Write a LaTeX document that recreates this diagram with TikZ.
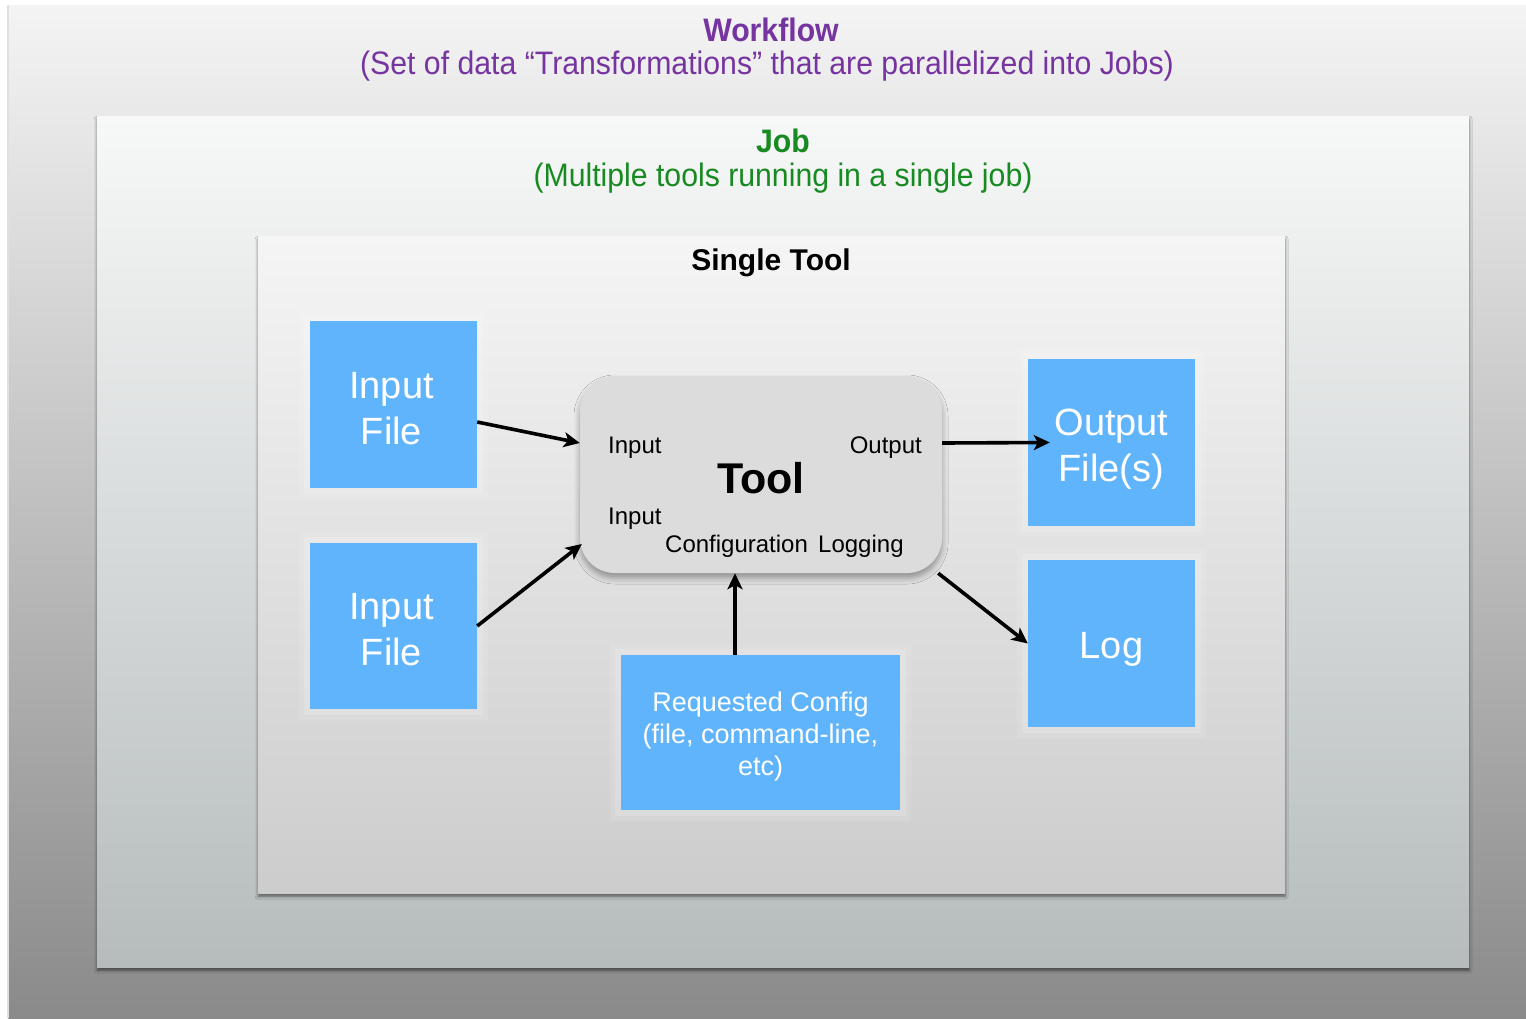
\documentclass[tikz,border=0pt]{standalone}
\usepackage{fontspec}
\setmainfont{Liberation Sans}
\newfontfamily\condf[FakeStretch=0.93]{Liberation Sans}
\usetikzlibrary{arrows.meta,shadows.blur,calc}
\definecolor{wfpurple}{RGB}{118,52,160}
\definecolor{jobgreen}{RGB}{24,138,34}
\definecolor{boxblue}{RGB}{96,180,251}
\definecolor{toolgray}{RGB}{220,220,220}
\tikzset{
  container/.style={draw=none, inner sep=0pt, anchor=north west},
  bluebox/.style={fill=boxblue, draw=none, inner sep=0pt,
    preaction={draw=white, draw opacity=0.10, line width=22pt},
    preaction={draw=white, draw opacity=0.15, line width=12pt}},
  boxtxt/.style={text=white, align=center, inner sep=0pt},
  bigtxt/.style={boxtxt, font=\fontsize{38}{46}\selectfont},
  cfgtxt/.style={boxtxt, font=\fontsize{27}{32}\selectfont},
  lbl/.style={font=\fontsize{24}{28}\selectfont, inner sep=0pt},
  headtxt/.style={font=\condf\fontsize{32.5}{36}\selectfont},
  headbold/.style={font=\condf\bfseries\fontsize{32.5}{36}\selectfont},
  arr/.style={line width=3.6pt, -{Stealth[length=16pt,width=15pt,inset=4pt]}},
  boxshadow/.style={blur shadow={shadow xshift=0pt, shadow yshift=-3pt, shadow blur radius=3pt, shadow opacity=55}}
}
\begin{document}
\begin{tikzpicture}[x=1pt,y=-1pt]
\useasboundingbox (0,0) rectangle (1526,1018);
\fill[white] (0,0) rectangle (1526,1018);
% workflow background
\node[container, minimum width=1518pt, minimum height=1013pt,
  top color={rgb,255:red,244;green,244;blue,244},
  middle color={rgb,255:red,208;green,208;blue,208},
  bottom color={rgb,255:red,138;green,138;blue,138}] (wf) at (8,5) {};
\draw[black!12, line width=2pt] (wf.south west) -- (wf.north west);
% job box
\node[container, boxshadow, minimum width=1372pt, minimum height=851pt,
  top color={rgb,255:red,247;green,248;blue,248},
  middle color={rgb,255:red,222;green,224;blue,224},
  bottom color={rgb,255:red,182;green,188;blue,188}] (job) at (97,116) {};
% single tool box
\node[container, boxshadow, minimum width=1027pt, minimum height=657pt,
  top color={rgb,255:red,245;green,245;blue,245},
  middle color={rgb,255:red,228;green,228;blue,228},
  bottom color={rgb,255:red,204;green,204;blue,204}] (st) at (258,236) {};
% titles
\node[text=wfpurple, headbold] (wft) at (771,30) {Workflow};
\node[text=wfpurple, headtxt] (wfs) at (767,66) {(Set of data “Transformations” that are parallelized into Jobs)};
\node[text=jobgreen, headbold] (jobt) at (783,141) {Job};
\node[text=jobgreen, headtxt] (jobs) at (783,178) {(Multiple tools running in a single job)};
\node[font=\bfseries\fontsize{30}{34}\selectfont] (stt) at (771,263) {Single Tool};
% blue boxes
\node[bluebox, minimum width=167pt, minimum height=167pt] (in1) at (393.5,404.5) {};
\node[bluebox, minimum width=167pt, minimum height=166pt] (in2) at (393.5,626) {};
\node[bluebox, minimum width=167pt, minimum height=167pt] (out) at (1111.5,442.5) {};
\node[bluebox, minimum width=167pt, minimum height=167pt] (log) at (1111.5,643.5) {};
\node[bluebox, minimum width=279pt, minimum height=155pt] (cfg) at (760.5,732.5) {};
\node[bigtxt] (in1t) at ([xshift=-2pt,yshift=-4pt]in1.center) {Input\\File};
\node[bigtxt] (in2t) at ([xshift=-2pt,yshift=-4pt]in2.center) {Input\\File};
\node[bigtxt] (outt) at ([yshift=-7pt]out.center) {Output\\File(s)};
\node[bigtxt] (logt) at ([yshift=-6pt]log.center) {Log};
\node[cfgtxt] (cfgt) at ([yshift=-4pt]cfg.center) {Requested Config\\(file, command-line,\\etc)};
% tool
\node[fill=toolgray, rounded corners=35pt, minimum width=362pt, minimum height=197pt, inner sep=0pt,
  blur shadow={shadow xshift=0pt, shadow yshift=-5pt, shadow blur radius=6pt, shadow opacity=35}] (tool) at (761,474.5) {};
\node[font=\bfseries\fontsize{43}{48}\selectfont, inner sep=0pt] (toolt) at (761,478) {Tool};
\node[lbl, anchor=west] (lin1) at (608,448) {Input};
\node[lbl, anchor=east] (lout) at (922,448) {Output};
\node[lbl, anchor=west] (lin2) at (608,519) {Input};
\node[lbl, anchor=west] (lcfg) at (665,546) {Configuration};
\node[lbl, anchor=west] (llog) at (818,546) {Logging};
% connectors
\draw[arr] ([yshift=-17.5pt]in1.east) -- ([yshift=31.5pt]tool.west);
\draw[arr] (in2.east) -- ([xshift=2pt,yshift=-69.5pt]tool.west);
\draw[arr] ([yshift=31.5pt]tool.east) -- ([xshift=22pt]out.west);
\draw[arr] ([xshift=-4pt]tool.south east) -- (log.west);
\draw[arr] ([xshift=-25.5pt]cfg.north) -- ([xshift=-26pt]tool.south);
\end{tikzpicture}
\end{document}
